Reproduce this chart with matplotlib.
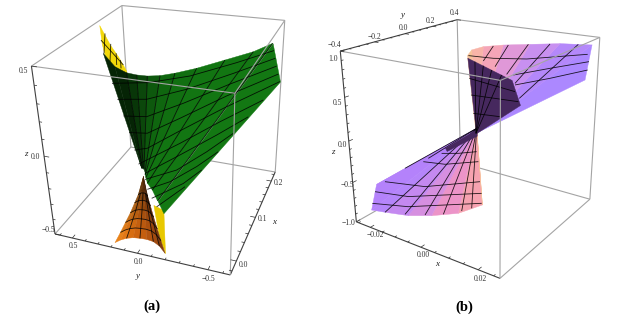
import numpy as np
import matplotlib
matplotlib.use('Agg')
import matplotlib.pyplot as plt
from mpl_toolkits.mplot3d.art3d import Poly3DCollection

plt.rcParams['font.family'] = ['Liberation Serif', 'DejaVu Sans']
W, H = 620, 317

# box limits
lim_a = ((-0.028, 0.228), (-0.65, 0.64), (-0.5, 0.5))
lim_b = ((-0.026, 0.027), (-0.4, 0.4), (-1.0, 1.0))

# sheet points as (y, z) in thousandths; x follows from the tilt of the sheet
tilt_a, tilt_a_low, tilt_b = 0.4, 0.0, 0.012

green_top = [(579,333),(446,290),(340,274),(259,271),(178,272),(87,279),(-14,294),(-155,320),(-334,360),(-512,400),(-628,437)]
green_end = [(5,-6),(-17,-19),(-22,-19),(-28,-18),(-35,-21),(-47,-27),(-55,-36),(-66,-43),(-89,-58),(-135,-74),(-192,-101)]
green_tip = [(-744,310),(-253,-130)]
green_rows = [
    [(-650,412),(-421,356),(-127,291),(153,250),(417,231)],
    [(-673,386),(-420,318),(-135,245),(120,194),(330,180)],
    [(-696,360),(-419,281),(-145,198),(75,138),(240,129)],
    [(-721,334),(-421,241),(-157,149),(29,87),(154,80)],
    [(-744,310),(-424,200),(-176,107),(-8,42),(75,30)],
    [(-668,244),(-429,157),(-213,73),(-31,7),(13,-9)],
    [(-602,185),(-433,115),(-238,39),(-51,-32)],
    [(-536,128),(-402,61),(-248,-6),(-64,-49)],
    [(-475,67),(-368,14),(-230,-42),(-102,-75)],
    [(-406,7),(-317,-40),(-149,-97)],
    [(-334,-48),(-198,-117)],
]
yellow_top = [(709,438),(554,367),(452,327),(353,283),(340,274),(444,288),(557,324),(625,369)]
yellow_marks = [(633,408),(573,333),(552,371),(500,306),(480,339),(438,297),(424,316),(395,287),(642,381),(388,300)]
yellow_low = [(-70,-253),(-141,-272),(-141,-557),(-97,-431)]
orange_apex = (-8,-89)
orange_arc = [(243,-563),(196,-535),(148,-514),(95,-499),(44,-493),(-7,-490),(-57,-495),(-101,-516),(-141,-557)]
orange_heights = [0,.25,.37,.52,.67,.83,1]
orange_widths = [0,.18,.30,.45,.62,.80,1]
orange_shade = [.45,.6,.75,.85,.95,1]

upper_apex = (26,-53)
upper_rim = [(-309,1100),(-293,1148),(-216,1140),(-59,1075),(189,954),(526,789),(995,528),(1184,-139)]
upper_dark = [(-304,1076),(159,539),(379,47),(26,-53)]
dark_rays = [(-236,996),(-157,906),(-72,806),(38,679)]
dark_rows = [(-230,814),(250,326),(-163,581),(340,123),(-79,296),(205,21)]
upper_rays = [(-139,1106),(-172,966),(-15,1052),(-54,833),(172,963),(84,657),(406,846),(210,462),(778,649),(334,174)]
upper_rows = [[(-302,1096),(-98,952),(221,761),(1001,384)],
              [(154,604),(545,447),(1087,221)],
              [(218,436),(608,266),(1138,56)]]
lower_apex = (12,27)
lower_rim = [(-202,-60),(-622,-39),(-600,-381),(-500,-541),(-303,-849),(-81,-1145),(212,-1494),(490,-1702),(254,-845)]
lower_dark = [(14,15),(-210,-22),(-184,-91),(43,-100)]
lower_rows = [[(-220,-86),(-67,-238),(114,-394)],
              [(-345,-65),(-151,-302),(182,-612)],
              [(-573,-63),(-253,-497),(310,-1072)],
              [(-617,-132),(-362,-504),(403,-1382)],
              [(-610,-284),(-332,-682),(469,-1644)]]
lower_rays = [(-500,-541),(-336,-786),(-151,-1041),(39,-1282),(242,-1492),(359,-1596),(-465,-20),(-315,-54)]

green_colors = ['#052405','#052405','#083608','#0b470b','#0d580d','#0f660f','#116f11','#127512','#127612','#137813','#137813']
orange_colors = [(232,130,26),(226,120,22),(216,110,18),(205,100,16),(196,94,15),(180,84,15),(160,74,16),(130,60,16)]
upper_colors = ['#f7c39a','#f8b4a8','#f5a5b8','#e098d8','#c890f0','#b488fa','#ac88ff']
lower_colors = ['#b98af5','#b482fb','#b585fa','#c489f0','#d68fe0','#ec94c8','#f6a2b0','#f8c098']

fig = plt.figure(figsize=(6.2, 3.17), dpi=100)


def make_ax(elev, azim, roll, focal, aspect, left, bottom, size, lim):
    ax = fig.add_axes([left, bottom, size, size * W / H], projection='3d', computed_zorder=False)
    ax.set_xlim(*lim[0], view_margin=0)
    ax.set_ylim(*lim[1], view_margin=0)
    ax.set_zlim(*lim[2], view_margin=0)
    ax.view_init(elev, azim, roll)
    ax.set_proj_type('persp', focal_length=focal)
    ax.set_box_aspect(aspect)
    ax.set_axis_off()
    ax.patch.set_visible(False)
    return ax


def sheet(pts, tilt):
    yz = np.atleast_2d(np.array(pts, float)) / 1000
    return np.column_stack([tilt * yz[:, 1], yz[:, 0], yz[:, 1]])


def fill(ax, verts, colors, z):
    pc = Poly3DCollection(verts, facecolors=colors, edgecolors=colors, linewidths=0.3, zorder=z)
    ax.add_collection3d(pc, autolim=False)


def line(ax, pts, z, c='black', lw=0.6, alpha=0.85):
    pts = np.array(pts)
    ax.plot(pts[:, 0], pts[:, 1], pts[:, 2], color=c, lw=lw, alpha=alpha, zorder=z, solid_capstyle='butt')


def pairs(ax, pts, z):
    for i in range(0, len(pts), 2):
        line(ax, pts[i:i+2], z)


def box(ax, lim, front, dark):
    for a in (0, 1):
        for b in (0, 1):
            for s, e in (((0, a, b), (1, a, b)), ((a, 0, b), (a, 1, b)), ((a, b, 0), (a, b, 1))):
                pts = [[lim[k][s[k]] for k in range(3)], [lim[k][e[k]] for k in range(3)]]
                is_dark = (s, e) in dark
                top = is_dark or s == front or e == front
                line(ax, pts, 20 if top else 1, '#404040' if is_dark else '#a4a4a4', 0.8, 1)


def ticks(ax, lim, axis, base, into, major, minor):
    for vals, frac in ((major, .03), (minor, .016)):
        for v in vals:
            p = list(base)
            p[axis] = v
            q = list(p)
            q[into] = p[into] + frac * (lim[into][1] - lim[into][0]) * (1 if p[into] == lim[into][0] else -1)
            line(ax, [p, q], 21, '#303030', 0.5, 1)


def put(x, y, s, **k):
    fig.text(x / W, 1 - y / H, s, ha='center', va='center', **k)


ax_a = make_ax(27.8423, -158.1842, 1.6522, 0.3757, (0.9852, 0.9708, 0.9650), 0.0228, 0.1074, 0.4913, lim_a)
ax_b = make_ax(21.0942, -54.3775, 0.7677, 0.3800, (1.0368, 1.0541, 1.0526), 0.5210, 0.1038, 0.4795, lim_b)

# panel a
top = sheet(green_top, tilt_a)
end = sheet(green_end, tilt_a)
tip = sheet(green_tip, tilt_a)
fill(ax_a, [sheet(yellow_low, tilt_a_low)], ['#e8c800'], 3)
apex = sheet(orange_apex, tilt_a_low)[0]
arc = sheet(orange_arc, tilt_a_low)


def cone(i, j):
    d = arc[i] - apex
    return apex + np.array([d[0] * orange_heights[j], d[1] * orange_widths[j], d[2] * orange_heights[j]])


verts, cols = [], []
for i in range(len(arc) - 1):
    for j in range(len(orange_heights) - 1):
        verts.append([cone(i, j), cone(i + 1, j), cone(i + 1, j + 1), cone(i, j + 1)])
        cols.append(tuple(np.array(orange_colors[i]) / 255 * orange_shade[j]))
fill(ax_a, verts, cols, 4)
for i in (2, 4, 6, 7):
    line(ax_a, [cone(i, j) for j in range(1, len(orange_heights))], 5)
for j in range(1, len(orange_heights) - 1):
    line(ax_a, [cone(i, j) for i in range(len(arc))], 5)

fill(ax_a, [sheet(yellow_top, tilt_a)], ['#f2d80a'], 4)
pairs(ax_a, sheet(yellow_marks, tilt_a), 5)
fill(ax_a, [[top[i], top[i+1], end[i+1], end[i]] for i in range(len(top) - 1)], green_colors[:10], 6)
fill(ax_a, [[top[-1], tip[0], tip[1], end[-1]]], green_colors[10:], 6)
for i in range(2, len(top)):
    line(ax_a, [top[i], end[i]], 7)
for row in green_rows:
    line(ax_a, sheet(row, tilt_a), 7)

# panel b
apex = sheet(upper_apex, tilt_b)[0]
rim = sheet(upper_rim, tilt_b)
fill(ax_b, [[apex, rim[i], rim[i+1]] for i in range(len(rim) - 1)], upper_colors, 4)
pairs(ax_b, sheet(upper_rays, tilt_b), 5)
for row in upper_rows:
    line(ax_b, sheet(row, tilt_b), 5)
fill(ax_b, [sheet(upper_dark, tilt_b)], ['#46285e'], 6)
for p in sheet(dark_rays, tilt_b):
    line(ax_b, [apex, p], 7)
pairs(ax_b, sheet(dark_rows, tilt_b), 7)

apex = sheet(lower_apex, tilt_b)[0]
rim = sheet(lower_rim, tilt_b)
fill(ax_b, [[apex, rim[i], rim[i+1]] for i in range(len(rim) - 1)], lower_colors, 4)
for p in sheet(lower_rays, tilt_b):
    line(ax_b, [apex, p], 5)
for row in lower_rows:
    line(ax_b, sheet(row, tilt_b), 5)
fill(ax_b, [sheet(lower_dark, tilt_b)], ['#46285e'], 6)

# boxes and ticks
box(ax_a, lim_a, (0, 0, 1), [((0, 1, 0), (0, 1, 1)), ((0, 0, 0), (0, 1, 0)), ((0, 0, 0), (1, 0, 0))])
box(ax_b, lim_b, (1, 0, 1), [((0, 0, 0), (0, 0, 1)), ((0, 0, 1), (0, 1, 1)), ((0, 0, 0), (1, 0, 0))])

ticks(ax_a, lim_a, 2, (lim_a[0][0], lim_a[1][1], 0), 1, [-.5, 0, .5], [-.4, -.3, -.2, -.1, .1, .2, .3, .4])
ticks(ax_a, lim_a, 1, (lim_a[0][0], 0, lim_a[2][0]), 0, [-.5, 0, .5], [-.6, -.4, -.3, -.2, -.1, .1, .2, .3, .4, .6])
ticks(ax_a, lim_a, 0, (0, lim_a[1][0], lim_a[2][0]), 1, [0, .1, .2], [-.02, .02, .04, .06, .08, .12, .14, .16, .18, .22])
ticks(ax_b, lim_b, 2, (lim_b[0][0], lim_b[1][0], 0), 1, [-1, -.5, 0, .5, 1], [-.9, -.8, -.7, -.6, -.4, -.3, -.2, -.1, .1, .2, .3, .4, .6, .7, .8, .9])
ticks(ax_b, lim_b, 1, (lim_b[0][0], 0, lim_b[2][1]), 0, [-.4, -.2, 0, .2, .4], [-.35, -.3, -.25, -.15, -.1, -.05, .05, .1, .15, .25, .3, .35])
ticks(ax_b, lim_b, 0, (0, lim_b[1][0], lim_b[2][0]), 1, [-.02, 0, .02], [-.025, -.015, -.01, -.005, .005, .01, .015, .025])

tick_labels = [(23,71,'0.5'),(35,157,'0.0'),(48,230,'\u22120.5'),(73,246,'0.5'),(138,262,'0.0'),(208,279,'\u22120.5'),
               (243,265,'0.0'),(262,219,'0.1'),(278,183,'0.2'),(334,45,'\u22120.4'),(374,37,'\u22120.2'),(403,28,'0.0'),
               (430,21,'0.2'),(454,13,'0.4'),(333,59,'1.0'),(337,103,'0.5'),(342,145,'0.0'),(347,185,'\u22120.5'),
               (348,223,'\u22121.0'),(375,235,'\u22120.02'),(423,255,'0.00'),(480,279,'0.02')]
for x, y, s in tick_labels:
    put(x, y, s, fontsize=5.5, color='#333333')
for x, y, s in [(26,154,'z'),(138,276,'y'),(274,222,'x'),(403,15,'y'),(333,152,'z'),(437,264,'x')]:
    put(x, y, s, fontsize=6.5, style='italic', color='#222222')
put(152, 306, '(a)', fontsize=10.5, weight='bold')
put(464, 307, '(b)', fontsize=10.5, weight='bold')

fig.savefig('out.png', dpi=100)
